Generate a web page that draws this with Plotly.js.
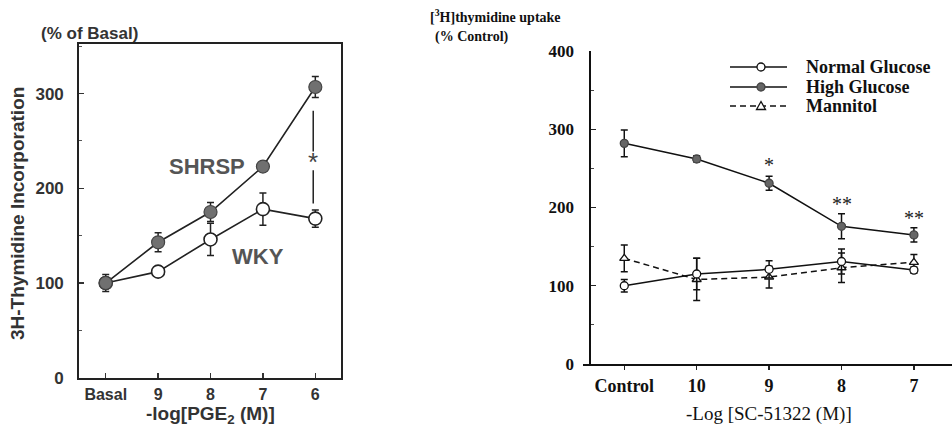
<!DOCTYPE html>
<html>
<head>
<meta charset="utf-8">
<script src="https://cdn.plot.ly/plotly-3.0.1.min.js"></script>
<style>html,body{margin:0;padding:0;background:#fff;}#chart{width:952px;height:428px;}</style>
</head>
<body>
<div id="chart"></div>
<script>
// ---------- Left panel data ----------
const leftCats = ['Basal', '9', '8', '7', '6'];
const shrspVals = [100, 143, 175, 223, 307];
const shrspErr = [9, 10, 10, 0, 11];
const wkyVals = [100, 112, 146, 178, 168];
const wkyErr = [0, 0, 17, 17, 9];
const leftYTicks = [0, 100, 200, 300];

// ---------- Right panel data ----------
const rightCats = ['Control', '10', '9', '8', '7'];
const normalVals = [100, 115, 121, 131, 120];
const normalErr = [8, 20, 11, 16, 4];
const highVals = [282, 262, 231, 176, 165];
const highErr = [17, 4, 9, 16, 9];
const mannitolVals = [135, 108, 111, 123, 130];
const mannitolErr = [17, 27, 14, 19, 10];
const rightYTicks = [0, 100, 200, 300, 400];
const seriesNames = ['Normal Glucose', 'High Glucose', 'Mannitol'];

// significance marks
const leftStar = {x: 3.96, y: 228, text: '*'};
const leftBracket = [[282, 239], [219, 184]];
const rightStars = [
  {cat: '9', y: 254, text: '*'},
  {cat: '8', y: 205, text: '**'},
  {cat: '7', y: 186, text: '**'}
];

const sans = 'Liberation Sans, Arial, sans-serif';
const serif = 'Liberation Serif, Times New Roman, serif';
const W = 952, H = 428;
const px = v => v / W;
const py = v => 1 - v / H;

const styles = {
  'Normal Glucose': {dash: 'solid', fill: '#fff', edge: '#111', symbol: 'circle'},
  'High Glucose': {dash: 'solid', fill: '#666', edge: '#444', symbol: 'circle'},
  'Mannitol': {dash: '6px,4px', fill: '#fff', edge: '#111', symbol: 'triangle-up'}
};

function rightTrace(name, vals, errs) {
  const s = styles[name];
  return {
    x: rightCats, y: vals, xaxis: 'x2', yaxis: 'y2', type: 'scatter', mode: 'lines+markers',
    name: name, showlegend: false,
    line: {color: '#111', width: 1.5, dash: s.dash},
    marker: {symbol: s.symbol, size: 8, color: s.fill, line: {color: s.edge, width: 1.3}},
    error_y: {type: 'data', array: errs, visible: true, color: '#111', thickness: 1.5, width: 3.5}
  };
}

const traces = [
  {
    x: leftCats, y: wkyVals, xaxis: 'x', yaxis: 'y', type: 'scatter', mode: 'lines+markers',
    name: 'WKY', showlegend: false,
    line: {color: '#222', width: 1.6},
    marker: {symbol: 'circle', size: 13, color: '#fff', line: {color: '#222', width: 1.6}},
    error_y: {type: 'data', array: wkyErr, visible: true, color: '#222', thickness: 1.5, width: 3.5}
  },
  {
    x: leftCats, y: shrspVals, xaxis: 'x', yaxis: 'y', type: 'scatter', mode: 'lines+markers',
    name: 'SHRSP', showlegend: false,
    line: {color: '#222', width: 1.6},
    marker: {symbol: 'circle', size: 13, color: '#707070', line: {color: '#444', width: 1.2}},
    error_y: {type: 'data', array: shrspErr, visible: true, color: '#222', thickness: 1.5, width: 3.5}
  },
  rightTrace('Mannitol', mannitolVals, mannitolErr),
  rightTrace('Normal Glucose', normalVals, normalErr),
  rightTrace('High Glucose', highVals, highErr)
];

function ann(x, y, text, font, extra) {
  return Object.assign({xref: 'paper', yref: 'paper', x: px(x), y: py(y), text: text,
    showarrow: false, xanchor: 'center', yanchor: 'middle', font: font}, extra || {});
}

const annotations = [
  ann(17, 214, '3H-Thymidine Incorporation', {family: sans, size: 19, color: '#333', weight: 'bold'}, {textangle: -90}),
  ann(89, 33, '(% of Basal)', {family: sans, size: 17, color: '#333', weight: 'bold'}),
  ann(210, 415, '-log[PGE<sub>2</sub> (M)]', {family: sans, size: 19, color: '#333', weight: 'bold'}),
  {xref: 'x', yref: 'y', x: 1.93, y: 223, text: 'SHRSP', showarrow: false,
   font: {family: sans, size: 22, color: '#555', weight: 'bold'}},
  {xref: 'x', yref: 'y', x: 2.91, y: 128, text: 'WKY', showarrow: false,
   font: {family: sans, size: 22, color: '#555', weight: 'bold'}},
  {xref: 'x', yref: 'y', x: leftStar.x, y: leftStar.y, text: leftStar.text, showarrow: false,
   font: {family: sans, size: 26, color: '#444'}},
  ann(428, 16, '[<sup>3</sup>H]thymidine uptake', {family: serif, size: 14, color: '#111', weight: 'bold'}, {xanchor: 'left'}),
  ann(433, 37, '(% Control)', {family: serif, size: 14, color: '#111', weight: 'bold'}, {xanchor: 'left'}),
  ann(769, 414, '-Log [SC-51322 (M)]', {family: serif, size: 19, color: '#111'})
];
rightStars.forEach(s => annotations.push({
  xref: 'x2', yref: 'y2', x: rightCats.indexOf(s.cat), y: s.y, text: s.text, showarrow: false,
  xanchor: 'center', yanchor: 'middle',
  font: {family: serif, size: 20, color: '#222'}
}));

const shapes = leftBracket.map(seg => ({
  type: 'line', xref: 'x', yref: 'y', x0: leftStar.x, x1: leftStar.x, y0: seg[0], y1: seg[1],
  line: {color: '#222', width: 1.5}
}));

// custom legend (sample line + symbol + label), rows in pixels from top
const legendRows = [67, 87, 106];
seriesNames.forEach((name, i) => {
  const s = styles[name];
  const yy = py(legendRows[i]);
  shapes.push({type: 'line', xref: 'paper', yref: 'paper', x0: px(730), x1: px(787), y0: yy, y1: yy,
    line: {color: '#111', width: 1.5, dash: s.dash}});
  if (s.symbol === 'circle') {
    shapes.push({type: 'circle', xref: 'paper', yref: 'paper', xsizemode: 'pixel', ysizemode: 'pixel',
      xanchor: px(761), yanchor: yy, x0: -4, x1: 4, y0: -4, y1: 4,
      fillcolor: s.fill, line: {color: s.edge, width: 1.3}});
  } else {
    shapes.push({type: 'path', xref: 'paper', yref: 'paper', xsizemode: 'pixel', ysizemode: 'pixel',
      xanchor: px(761), yanchor: yy, path: 'M-4.5,-3.5 L4.5,-3.5 L0,4.5 Z',
      fillcolor: s.fill, line: {color: s.edge, width: 1.3}});
  }
  annotations.push(ann(804, legendRows[i], name, {family: serif, size: 18, color: '#111', weight: 'bold'}, {xanchor: 'left'}));
});

const layout = {
  width: W, height: H,
  margin: {l: 0, r: 0, t: 0, b: 0},
  paper_bgcolor: '#fff', plot_bgcolor: '#fff',
  showlegend: false,
  xaxis: {
    domain: [px(79), px(341)], anchor: 'y', type: 'category', range: [-0.51, 4.49],
    showline: true, mirror: true, linecolor: '#222', linewidth: 1.8,
    ticks: 'inside', ticklen: 5, tickwidth: 1.3, tickcolor: '#333',
    showgrid: false, zeroline: false, ticklabelstandoff: 1,
    tickfont: {family: sans, size: 16, color: '#333', weight: 'bold'}
  },
  yaxis: {
    domain: [py(377.7), py(44)], anchor: 'x', range: [0, 352.4],
    tickvals: leftYTicks, ticktext: leftYTicks.map(String),
    showline: true, mirror: true, linecolor: '#222', linewidth: 1.8,
    ticks: 'inside', ticklen: 5, tickwidth: 1.3, tickcolor: '#333',
    minor: {dtick: 50, ticks: 'inside', ticklen: 3, tickwidth: 1, tickcolor: '#555'},
    showgrid: false, zeroline: false, ticklabelstandoff: 10,
    tickfont: {family: sans, size: 17, color: '#333', weight: 'bold'}
  },
  xaxis2: {
    domain: [px(583.3), 1], anchor: 'y2', type: 'category', range: [-0.566, 4.526],
    showline: true, linecolor: '#111', linewidth: 1.6,
    ticks: 'outside', ticklen: 4, tickwidth: 1.3, tickcolor: '#222',
    showgrid: false, zeroline: false, ticklabelstandoff: 1,
    tickfont: {family: serif, size: 18, color: '#111', weight: 'bold'}
  },
  yaxis2: {
    domain: [py(364), py(51)], anchor: 'free', position: px(589.3), range: [0, 400],
    tickvals: rightYTicks, ticktext: rightYTicks.map(String),
    showline: true, linecolor: '#111', linewidth: 1.6,
    ticks: 'inside', ticklen: 5, tickwidth: 1.3, tickcolor: '#222',
    minor: {dtick: 50, ticks: 'inside', ticklen: 3, tickwidth: 1, tickcolor: '#444'},
    showgrid: false, zeroline: false, ticklabelstandoff: 12,
    tickfont: {family: serif, size: 17, color: '#111', weight: 'bold'}
  },
  annotations: annotations,
  shapes: shapes
};

Plotly.newPlot('chart', traces, layout, {staticPlot: true, displayModeBar: false});
</script>
</body>
</html>
